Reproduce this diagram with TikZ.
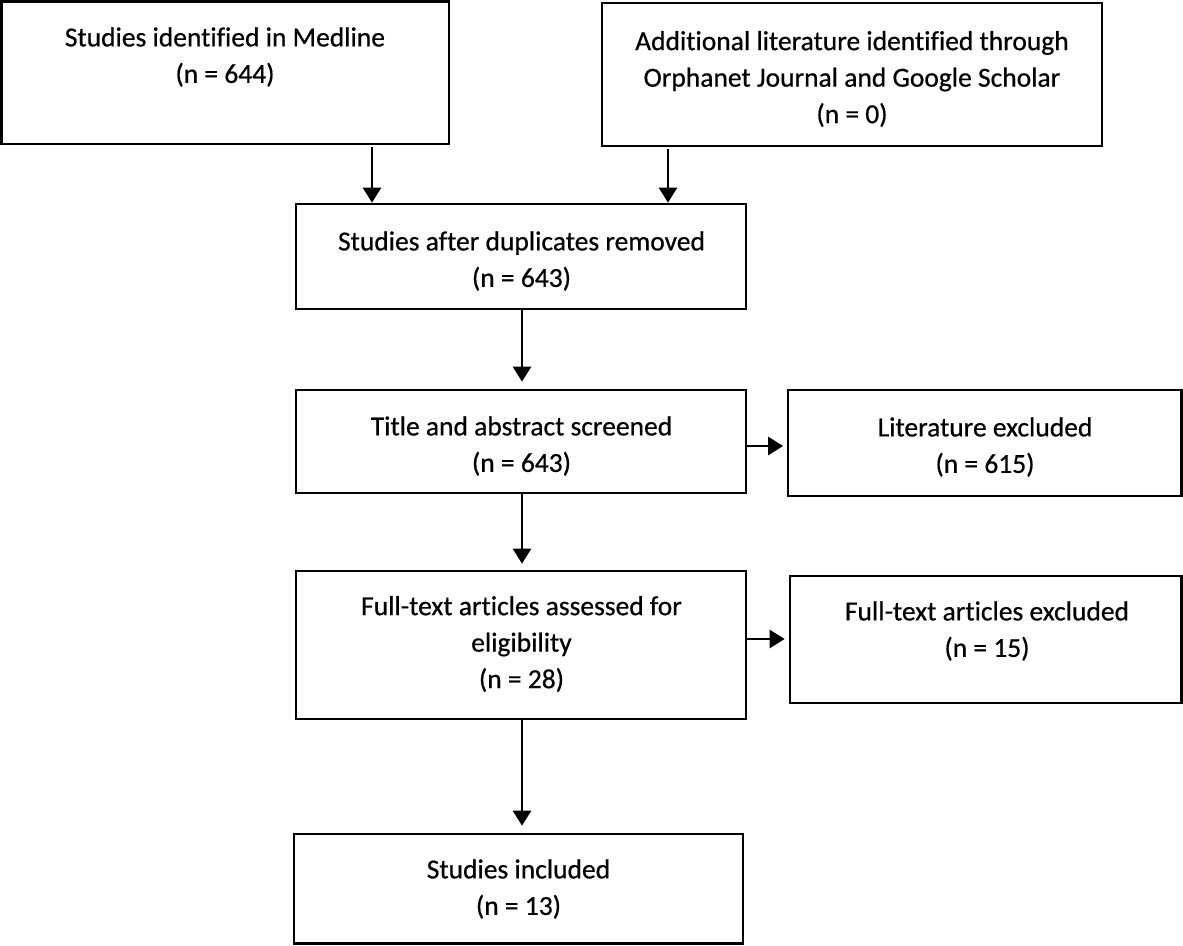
\documentclass[tikz,border=0pt]{standalone}
\usepackage{fontspec}
\setmainfont{Carlito}[Ligatures=NoCommon,FakeBold=0.6]
\usetikzlibrary{arrows.meta,positioning,fit,calc}
\begin{document}
\begin{tikzpicture}[x=1pt,y=-1pt,
  box/.style={draw=black,line width=2.7pt,rectangle,inner sep=0pt},
  txt/.style={align=center,inner sep=0pt,font=\fontsize{27.5}{36.5}\selectfont},
  arr/.style={draw=black,line width=2.7pt,-{Triangle[length=15pt,width=18pt]}}]
\useasboundingbox (0,0) rectangle (1183,945);
% boxes
\node[box,fit={(1.5,1.5) (449,144)}] (b1) {};
\node[box,fit={(602,3) (1102,146)}] (b2) {};
\node[box,fit={(296,204) (746,309)}] (b3) {};
\node[box,fit={(296,390) (746,493)}] (b4) {};
\node[box,fit={(788,390) (1181.5,496)}] (b5) {};
\node[box,fit={(296,571) (746,719)}] (b6) {};
\node[box,fit={(790,576) (1181.5,703)}] (b7) {};
\node[box,fit={(294,834) (743,943.5)}] (b8) {};
% texts
\node[txt] (t1) at (225,57) {Studies identified in Medline\\(n = 644)};
\node[txt] (t2) at (852,79) {Additional literature identified through\\Orphanet Journal and Google Scholar\\(n = 0)};
\node[txt] (t3) at (521.5,261) {Studies after duplicates removed\\(n = 643)};
\node[txt] (t4) at (521.5,446) {Title and abstract screened\\(n = 643)};
\node[txt] (t5) at (985,447) {Literature excluded\\(n = 615)};
\node[txt] (t6) at (521.5,644) {Full-text articles assessed for\\eligibility\\(n = 28)};
\node[txt] (t7) at (987,631) {Full-text articles excluded\\(n = 15)};
\node[txt] (t8) at (518.5,889) {Studies included\\(n = 13)};
% connector guides
\coordinate (x1) at (372,0);
\coordinate (x2) at (668,0);
\coordinate (x3) at (522,0);
\coordinate (y4) at (0,446);
\coordinate (y6) at (0,639);
% connectors
\draw[arr,shorten <=2pt] (x1 |- b1.south) -- (x1 |- b3.north);
\draw[arr,shorten <=2pt] (x2 |- b2.south) -- (x2 |- b3.north);
\draw[arr,shorten >=7pt] (x3 |- b3.south) -- (x3 |- b4.north);
\draw[arr,shorten >=6pt] (x3 |- b4.south) -- (x3 |- b6.north);
\draw[arr,shorten >=3.5pt] (b4.east |- y4) -- (b5.west |- y4);
\draw[arr,shorten >=7pt] (x3 |- b6.south) -- (x3 |- b8.north);
\draw[arr,shorten >=4pt] (b6.east |- y6) -- (b7.west |- y6);
\end{tikzpicture}
\end{document}
